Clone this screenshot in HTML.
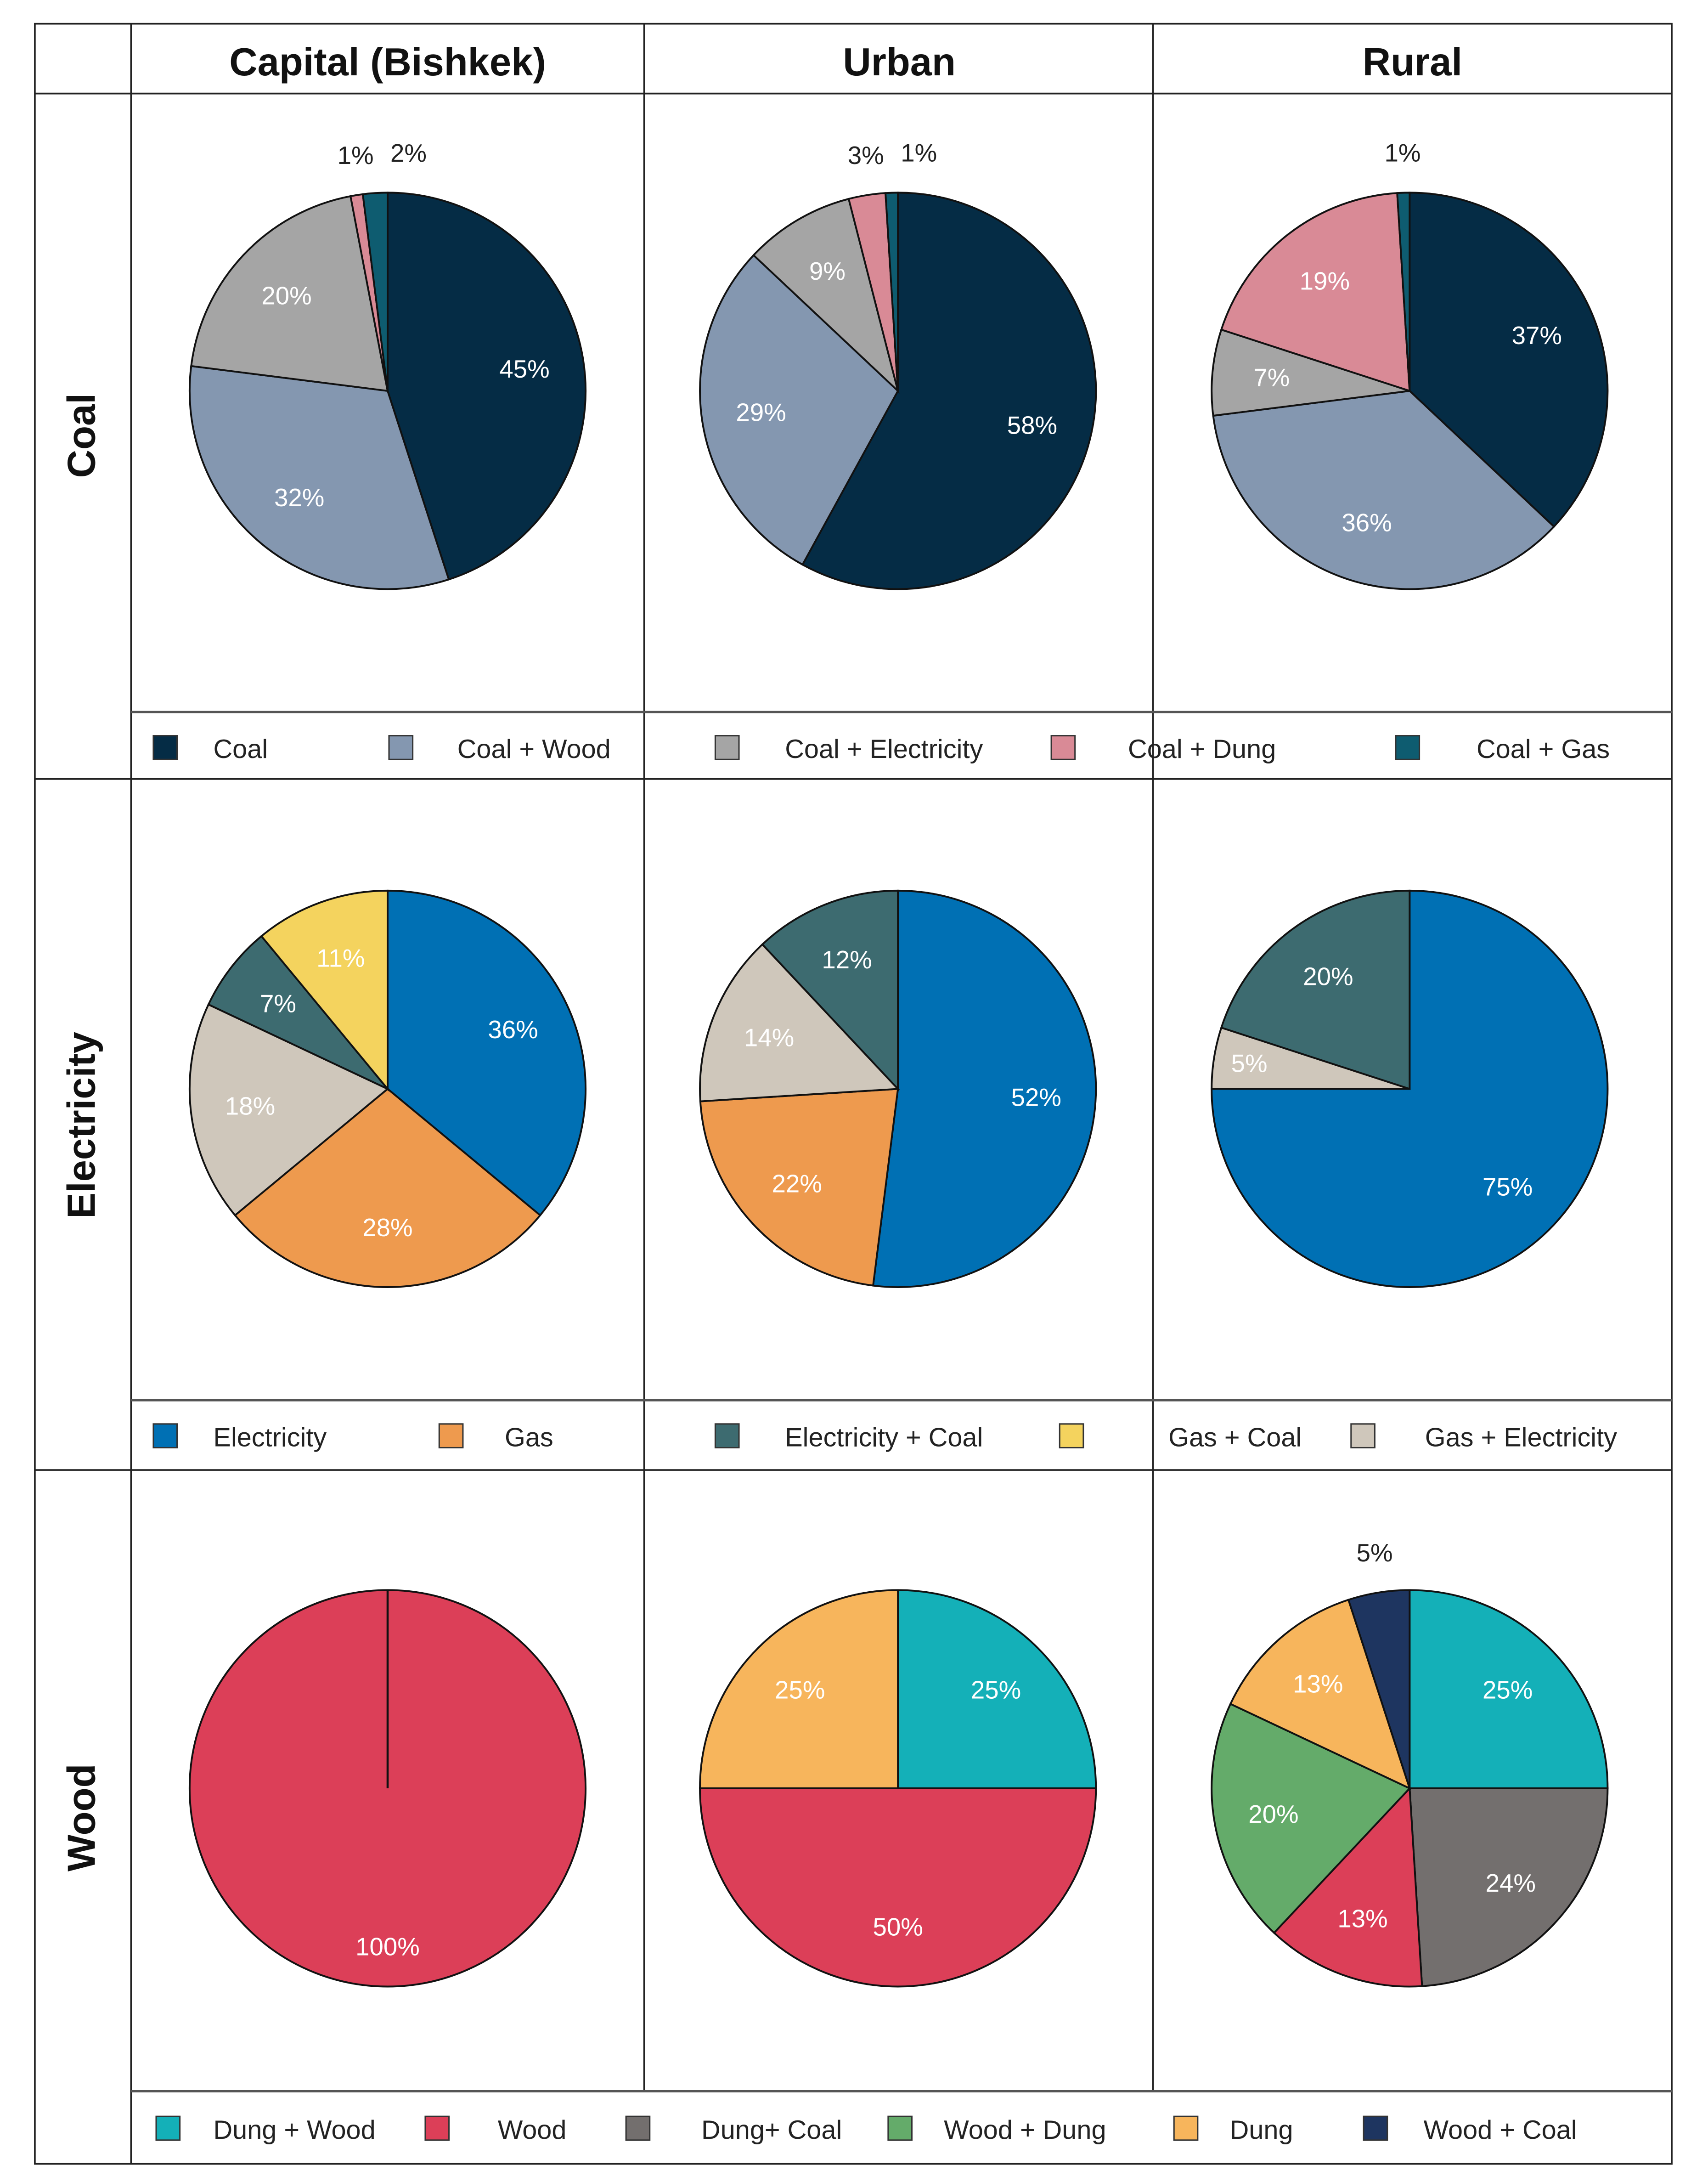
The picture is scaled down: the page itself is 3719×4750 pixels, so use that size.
<!DOCTYPE html>
<html><head><meta charset="utf-8"><style>
html,body{margin:0;padding:0;background:#fff}
svg{display:block}
</style></head><body>
<svg id="chart" xmlns="http://www.w3.org/2000/svg" width="3719" height="4750" viewBox="0 0 1225 1563" preserveAspectRatio="none">
<rect x="0" y="0" width="1225" height="1563" fill="#fff"/>
<g id="grid" stroke="#222" stroke-width="1.2" fill="none">
<rect x="25" y="17" width="1174" height="1533"/>
<line x1="25" y1="67" x2="1199" y2="67"/>
<line x1="94" y1="17" x2="94" y2="1550"/>
<line x1="462" y1="17" x2="462" y2="1498"/>
<line x1="827" y1="17" x2="827" y2="1498"/>
<line x1="25" y1="558" x2="1199" y2="558"/>
<line x1="25" y1="1053" x2="1199" y2="1053"/>
<line x1="94" y1="510" x2="1199" y2="510" stroke="#555" stroke-width="1.6"/>
<line x1="94" y1="1003" x2="1199" y2="1003" stroke="#555" stroke-width="1.6"/>
<line x1="94" y1="1498" x2="1199" y2="1498" stroke="#555" stroke-width="1.6"/>
</g>
<g font-family="Liberation Sans, sans-serif" font-weight="bold" font-size="28" fill="#111" text-anchor="middle">
<text x="278" y="54">Capital (Bishkek)</text>
<text x="645" y="54">Urban</text>
<text x="1013" y="54">Rural</text>
<text transform="translate(68,312) rotate(-90)">Coal</text>
<text transform="translate(68,806) rotate(-90)">Electricity</text>
<text transform="translate(68,1302) rotate(-90)">Wood</text>
</g>
<g id="pies"></g>
<g id="legends"></g>
</svg>
<script>
// ---- data ----
const coalCats = ["Coal","Coal + Wood","Coal + Electricity","Coal + Dung","Coal + Gas"];
const coalColors = ["#052c45","#8497b0","#a5a5a5","#d98a96","#0e5c70"];
const coalCapital = [45,32,20,1,2];
const coalUrban = [58,29,9,3,1];
const coalRural = [37,36,7,19,1];

const elecCats = ["Electricity","Gas","Gas + Electricity","Electricity + Coal","Gas + Coal"];
const elecColors = ["#0070b4","#ee9a4e","#cfc7bb","#3d6b70","#f4d35e"];
const elecCapital = [36,28,18,7,11];
const elecUrban = [52,22,14,12,0];
const elecRural = [75,0,5,20,0];

const woodCats = ["Dung + Wood","Dung+ Coal","Wood","Wood + Dung","Dung","Wood + Coal"];
const woodColors = ["#14b0b8","#736f6e","#dc3f58","#64ab6a","#f7b55c","#1e3560"];
const woodCapital = [0,0,100,0,0,0];
const woodUrban = [25,0,50,0,25,0];
const woodRural = [25,24,13,20,13,5];

const legendCoal = ["Coal","Coal + Wood","Coal + Electricity","Coal + Dung","Coal + Gas"];
const legendElec = ["Electricity","Gas","Electricity + Coal","Gas + Coal","Gas + Electricity"];
const legendWood = ["Dung + Wood","Wood","Dung+ Coal","Wood + Dung","Dung","Wood + Coal"];

// ---- layout ----
const NS = "http://www.w3.org/2000/svg";
const R = 142;
const colX = [278, 644, 1011];
const rowY = [280, 780, 1281];
const pies = [
  {row:0,col:0,vals:coalCapital,cats:coalCats,colors:coalColors,name:"coal-capital"},
  {row:0,col:1,vals:coalUrban,cats:coalCats,colors:coalColors,name:"coal-urban"},
  {row:0,col:2,vals:coalRural,cats:coalCats,colors:coalColors,name:"coal-rural"},
  {row:1,col:0,vals:elecCapital,cats:elecCats,colors:elecColors,name:"electricity-capital"},
  {row:1,col:1,vals:elecUrban,cats:elecCats,colors:elecColors,name:"electricity-urban"},
  {row:1,col:2,vals:elecRural,cats:elecCats,colors:elecColors,name:"electricity-rural"},
  {row:2,col:0,vals:woodCapital,cats:woodCats,colors:woodColors,name:"wood-capital"},
  {row:2,col:1,vals:woodUrban,cats:woodCats,colors:woodColors,name:"wood-urban"},
  {row:2,col:2,vals:woodRural,cats:woodCats,colors:woodColors,name:"wood-rural"}
];
const pg = document.getElementById('pies');
function pt(cx,cy,r,a){return [cx+r*Math.sin(a), cy-r*Math.cos(a)];}
pies.forEach(p=>{
  const cx=colX[p.col], cy=rowY[p.row];
  const total=p.vals.reduce((a,b)=>a+b,0);
  const g=document.createElementNS(NS,'g');
  
  
  pg.appendChild(g);
  let start=0;
  const outs=[];
  p.vals.forEach((v,i)=>{
    if(v<=0) return;
    const a0=start/total*2*Math.PI, a1=(start+v)/total*2*Math.PI;
    start+=v;
    let el;
    if(v>=total){
      el=document.createElementNS(NS,'circle');
      el.setAttribute('cx',cx);el.setAttribute('cy',cy);el.setAttribute('r',R);
    } else {
      el=document.createElementNS(NS,'path');
      const [x0,y0]=pt(cx,cy,R,a0),[x1,y1]=pt(cx,cy,R,a1);
      el.setAttribute('d',`M${cx},${cy} L${x0},${y0} A${R},${R} 0 ${(a1-a0)>Math.PI?1:0} 1 ${x1},${y1} Z`);
    }
    el.setAttribute('fill',p.colors[i]);
    el.setAttribute('stroke','#111');
    el.setAttribute('stroke-width','1.3');
    
    
    g.appendChild(el);
    const am=(a0+a1)/2;
    const outside = v<5 || (v===5 && p.row===2);
    const t=document.createElementNS(NS,'text');
    t.textContent=Math.round(v/total*100)+'%';
    t.setAttribute('font-family','Liberation Sans, DejaVu Sans, sans-serif');
    t.setAttribute('font-size','18');
    if(outside){
      const [lx,ly]=pt(cx,cy,R*1.13,am);
      t.setAttribute('x',lx);t.setAttribute('y',ly-4);
      t.setAttribute('fill','#222');
      outs.push(t);
    } else {
      const rr = v<=5 ? 0.82 : (v>=100 ? 0.8 : 0.7);
      const [lx,ly]=pt(cx,cy,R*rr,am);
      t.setAttribute('x',lx);t.setAttribute('y',ly+6);
      t.setAttribute('fill','#fff');
      t.setAttribute('text-anchor','middle');
    }
    
    
    g.appendChild(t);
  });
  if(outs.length===1){outs[0].setAttribute('text-anchor','middle');}
  else outs.forEach((t,k)=>{
    t.setAttribute('text-anchor', k%2===0?'end':'start');
    t.setAttribute('x', (k%2===0? cx-10 : cx+2));
  });
  if(p.vals.length && total>0 && Math.max(...p.vals)===total){
    const ln=document.createElementNS(NS,'line');
    ln.setAttribute('x1',cx);ln.setAttribute('y1',cy-R);ln.setAttribute('x2',cx);ln.setAttribute('y2',cy);
    ln.setAttribute('stroke','#111');ln.setAttribute('stroke-width','1.5');
    g.appendChild(ln);
  }
});

// legends
const lg=document.getElementById('legends');
const legends=[
  {y:536, items:legendCoal, cats:coalCats, colors:coalColors, sq:[110,279,513,754,1001], tx:[153,328,563,809,1059], name:'coal-legend'},
  {y:1029, items:legendElec, cats:elecCats, colors:elecColors, sq:[110,315,513,760,969], tx:[153,362,563,838,1022], name:'electricity-legend'},
  {y:1525, items:legendWood, cats:woodCats, colors:woodColors, sq:[112,305,449,637,842,978], tx:[153,357,503,677,882,1021], name:'wood-legend'}
];
legends.forEach(L=>{
  const g=document.createElementNS(NS,'g');
  
  
  lg.appendChild(g);
  L.items.forEach((it,i)=>{
    const ci=L.cats.indexOf(it);
    const r=document.createElementNS(NS,'rect');
    r.setAttribute('x',L.sq[i]);r.setAttribute('y',L.y-9);r.setAttribute('width',17);r.setAttribute('height',17);
    r.setAttribute('fill',L.colors[ci]);r.setAttribute('stroke','#333');r.setAttribute('stroke-width','1');
    
    
    g.appendChild(r);
    const t=document.createElementNS(NS,'text');
    t.textContent=it;
    t.setAttribute('x',L.tx[i]);t.setAttribute('y',L.y+7);
    t.setAttribute('font-family','Liberation Sans, sans-serif');t.setAttribute('font-size','19');t.setAttribute('fill','#222');
    
    
    g.appendChild(t);
  });
});
</script>
</body></html>
